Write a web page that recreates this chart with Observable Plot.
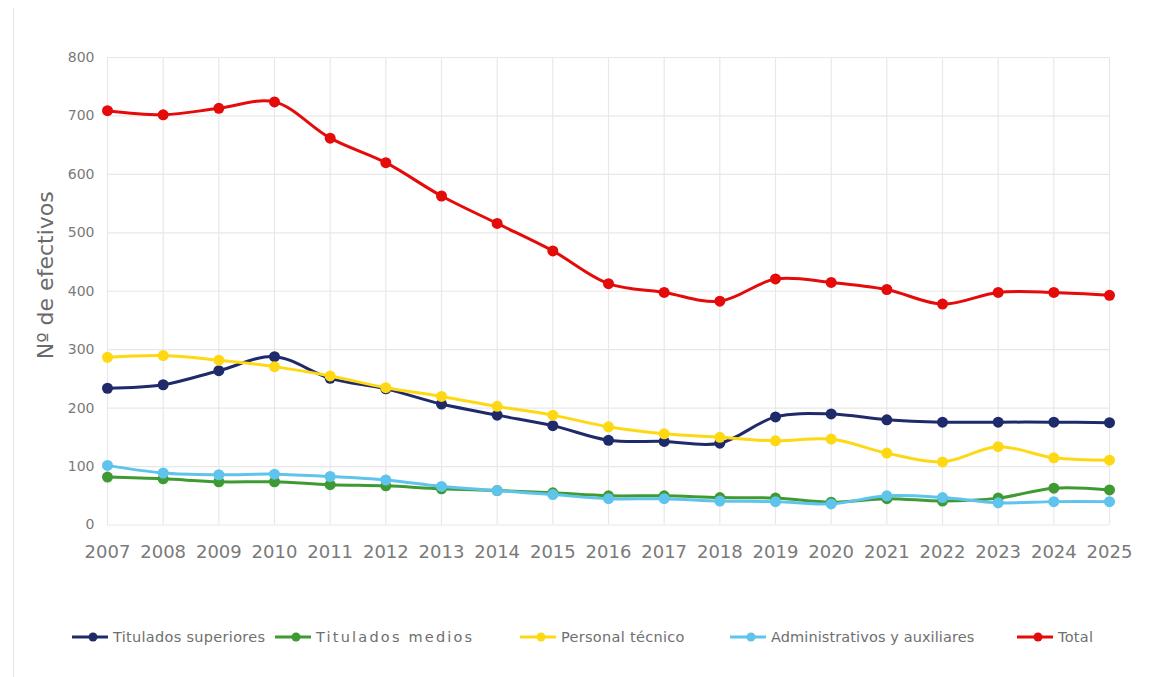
<!DOCTYPE html>
<html>
<head>
<meta charset="utf-8">
<script src="https://cdn.jsdelivr.net/npm/d3@7"></script>
<script src="https://cdn.jsdelivr.net/npm/@observablehq/plot@0.6"></script>
<style>
  html, body { margin: 0; padding: 0; background: #fff; }
  #wrap { position: relative; width: 1166px; height: 677px; overflow: hidden; font-family: "DejaVu Sans", sans-serif; }
  #border { position: absolute; left: 13px; top: 8px; width: 1px; height: 669px; background: #e4e4e4; }
  #chart { position: absolute; left: 0; top: 0; }
  .leg { position: absolute; top: 627px; height: 20px; display: flex; align-items: center; font-size: 14.5px; color: #6f6f6f; letter-spacing: 0.3px; white-space: nowrap; }
  .leg svg { margin-right: 5px; }
</style>
</head>
<body>
<div id="wrap">
  <div id="border"></div>
  <div id="chart"></div>
  <div id="legend"></div>
</div>
<script>
const years = [2007, 2008, 2009, 2010, 2011, 2012, 2013, 2014, 2015, 2016, 2017, 2018, 2019, 2020, 2021, 2022, 2023, 2024, 2025];
const seriesNames = ["Titulados superiores", "Titulados medios", "Personal técnico", "Administrativos y auxiliares", "Total"];
const seriesColors = ["#1f2a6b", "#3f9a34", "#ffd814", "#5fc4ec", "#e50b0b"];
const superiores = [234, 240, 264, 288, 251, 233, 207, 188, 170, 145, 143, 140, 185, 190, 180, 176, 176, 176, 175];
const medios = [82, 79, 74, 74, 69, 67, 62, 59, 55, 50, 50, 47, 46, 39, 45, 41, 46, 63, 60];
const tecnico = [287, 290, 282, 271, 255, 235, 220, 203, 188, 168, 156, 150, 144, 147, 123, 108, 134, 115, 111];
const administrativos = [102, 89, 86, 87, 83, 77, 66, 59, 52, 45, 45, 41, 40, 36, 50, 47, 38, 40, 40];
const total = [709, 702, 713, 724, 662, 620, 563, 516, 469, 413, 398, 383, 421, 415, 403, 378, 398, 398, 393];
const yTicks = [0, 100, 200, 300, 400, 500, 600, 700, 800];
const yTitle = "Nº de efectivos";

const allValues = [superiores, medios, tecnico, administrativos, total];
const rows = [];
seriesNames.forEach((name, i) => {
  years.forEach((yr, j) => rows.push({serie: name, year: yr, value: allValues[i][j]}));
});

const marks = [
  Plot.gridY(yTicks, {stroke: "#e8e8e8", strokeOpacity: 1, strokeWidth: 1.2}),
  Plot.gridX(years, {stroke: "#e8e8e8", strokeOpacity: 1, strokeWidth: 1.2}),
  Plot.axisY(yTicks, {tickSize: 0, tickPadding: 13, fontSize: 14, fill: "#7a7a7a", label: null}),
  Plot.axisX(years, {tickSize: 0, tickPadding: 20, fontSize: 18, fill: "#7a7a7a", label: null, tickFormat: d3.format("d")}),
  Plot.text([yTitle], {frameAnchor: "left", textAnchor: "middle", rotate: -90, dx: -62, dy: -16, fontSize: 22, fill: "#6a6a6a", letterSpacing: 1.5})
];
seriesNames.forEach(name => {
  const data = rows.filter(r => r.serie === name);
  marks.push(Plot.line(data, {x: "year", y: "value", stroke: "serie", strokeWidth: 3, curve: "catmull-rom"}));
  marks.push(Plot.dot(data, {x: "year", y: "value", fill: "serie", r: 5.5}));
});

const chart = Plot.plot({
  width: 1166,
  height: 600,
  marginLeft: 107,
  marginRight: 57,
  marginTop: 57,
  marginBottom: 75.5,
  style: {fontFamily: "DejaVu Sans, sans-serif", background: "transparent"},
  x: {domain: [2007, 2025], axis: null},
  y: {domain: [0, 800], axis: null},
  color: {domain: seriesNames, range: seriesColors},
  marks
});
document.getElementById("chart").appendChild(chart);

// legend
const legendLefts = [72, 275, 520, 730, 1017];
const legendSpacing = [0.3, 2.2, 0.3, 0.1, 0.3];
const legend = document.getElementById("legend");
seriesNames.forEach((name, i) => {
  const item = document.createElement("div");
  item.className = "leg";
  item.style.left = legendLefts[i] + "px";
  item.style.letterSpacing = legendSpacing[i] + "px";
  item.innerHTML = `<svg width="36" height="12"><line x1="0" y1="6" x2="36" y2="6" stroke="${seriesColors[i]}" stroke-width="3"/><circle cx="21" cy="6" r="4.5" fill="${seriesColors[i]}"/></svg><span>${name}</span>`;
  legend.appendChild(item);
});
</script>
</body>
</html>
